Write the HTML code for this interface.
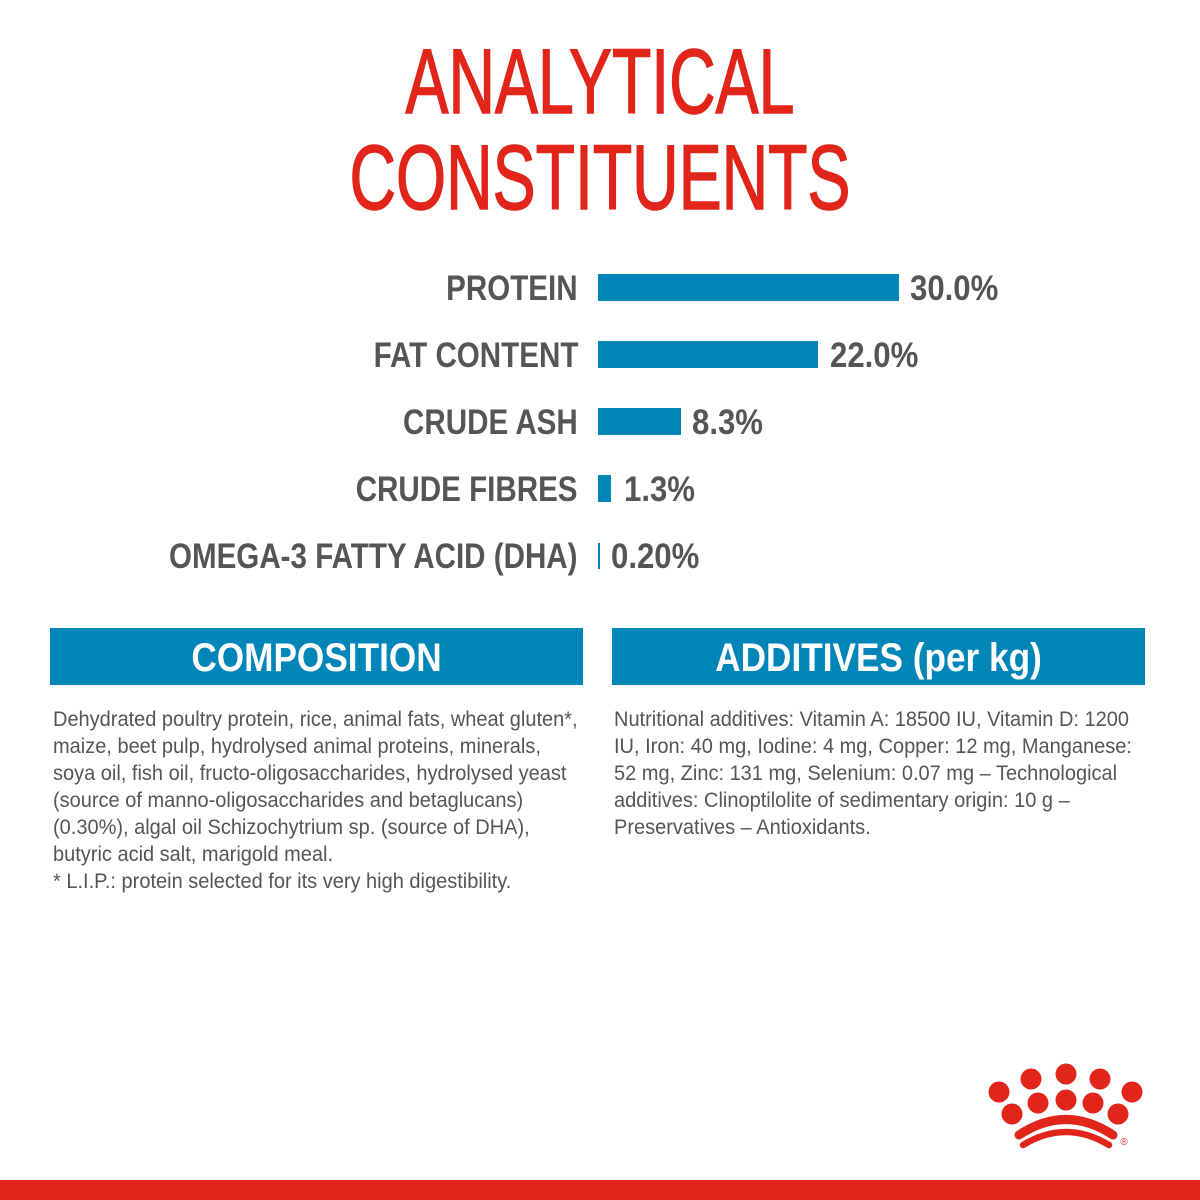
<!DOCTYPE html>
<html><head><meta charset="utf-8"><style>
body{margin:0;width:1200px;height:1200px;background:#fff;position:relative;overflow:hidden;font-family:"Liberation Sans Narrow","Liberation Sans",sans-serif;}
.t{position:absolute;left:0;width:1200px;text-align:center;color:#e1251b;font-size:92px;line-height:1;font-weight:normal;transform:scaleX(0.70);transform-origin:600px 0;-webkit-text-stroke:1.5px #e1251b;}
.lab{position:absolute;right:622px;color:#555;font-weight:bold;font-size:35px;line-height:1;white-space:nowrap;transform:scaleX(0.845);transform-origin:right top;}
.bar{position:absolute;left:598px;background:#0085b9;}
.val{position:absolute;color:#555;font-weight:bold;font-size:35px;line-height:1;transform:scaleX(0.89);transform-origin:left top;}
.hd{position:absolute;top:628px;height:57px;background:#0085b9;}
.hd span{display:block;color:#fff;font-weight:bold;font-size:40px;line-height:60px;text-align:center;transform:scaleX(0.88);}
.tx{position:absolute;top:706px;color:#555;font-size:21.5px;line-height:27px;white-space:nowrap;transform:scaleX(0.93);transform-origin:left top;}
</style></head><body>
<div class="t" style="top:36px">ANALYTICAL</div>
<div class="t" style="top:132px;">CONSTITUENTS</div>

<div class="lab" style="top:271px">PROTEIN</div>
<div class="bar" style="top:274px;width:301px;height:27px"></div>
<div class="val" style="left:910px;top:271px">30.0%</div>

<div class="lab" style="top:338px">FAT CONTENT</div>
<div class="bar" style="top:341px;width:220px;height:27px"></div>
<div class="val" style="left:830px;top:338px">22.0%</div>

<div class="lab" style="top:405px">CRUDE ASH</div>
<div class="bar" style="top:408px;width:83px;height:27px"></div>
<div class="val" style="left:692px;top:405px">8.3%</div>

<div class="lab" style="top:472px">CRUDE FIBRES</div>
<div class="bar" style="top:475px;width:13px;height:27px"></div>
<div class="val" style="left:624px;top:472px">1.3%</div>

<div class="lab" style="top:539px">OMEGA-3 FATTY ACID (DHA)</div>
<div class="bar" style="top:543px;width:2px;height:26px"></div>
<div class="val" style="left:611px;top:539px">0.20%</div>

<div class="hd" style="left:50px;width:533px"><span>COMPOSITION</span></div>
<div class="hd" style="left:612px;width:533px"><span>ADDITIVES (per kg)</span></div>

<div class="tx" style="left:53px">Dehydrated poultry protein, rice, animal fats, wheat gluten*,<br>maize, beet pulp, hydrolysed animal proteins, minerals,<br>soya oil, fish oil, fructo-oligosaccharides, hydrolysed yeast<br>(source of manno-oligosaccharides and betaglucans)<br>(0.30%), algal oil Schizochytrium sp. (source of DHA),<br>butyric acid salt, marigold meal.<br>* L.I.P.: protein selected for its very high digestibility.</div>
<div class="tx" style="left:614px">Nutritional additives: Vitamin A: 18500 IU, Vitamin D: 1200<br>IU, Iron: 40 mg, Iodine: 4 mg, Copper: 12 mg, Manganese:<br>52 mg, Zinc: 131 mg, Selenium: 0.07 mg – Technological<br>additives: Clinoptilolite of sedimentary origin: 10 g –<br>Preservatives – Antioxidants.</div>

<svg style="position:absolute;left:0;top:0" width="1200" height="1200">
<g fill="#e1251b">
<circle cx="999" cy="1092" r="10.5"/><circle cx="1031" cy="1079" r="10.5"/><circle cx="1066" cy="1074" r="10.5"/><circle cx="1100" cy="1079" r="10.5"/><circle cx="1132" cy="1092" r="10.5"/>
<circle cx="1012" cy="1114" r="10.5"/><circle cx="1038" cy="1103" r="10.5"/><circle cx="1066" cy="1100" r="10.5"/><circle cx="1093" cy="1103" r="10.5"/><circle cx="1118" cy="1114" r="10.5"/>
</g>
<path d="M1019 1135 Q1066 1104 1113 1135" stroke="#e1251b" stroke-width="9" fill="none" stroke-linecap="round"/>
<path d="M1023 1145 Q1066 1119 1109 1145" stroke="#e1251b" stroke-width="6.5" fill="none" stroke-linecap="round"/>
<text x="1124" y="1145" font-size="10" fill="#e1251b" font-family="Liberation Sans" text-anchor="middle">®</text>
<rect x="0" y="1180" width="1200" height="20" fill="#e1251b"/>
</svg>
</body></html>
